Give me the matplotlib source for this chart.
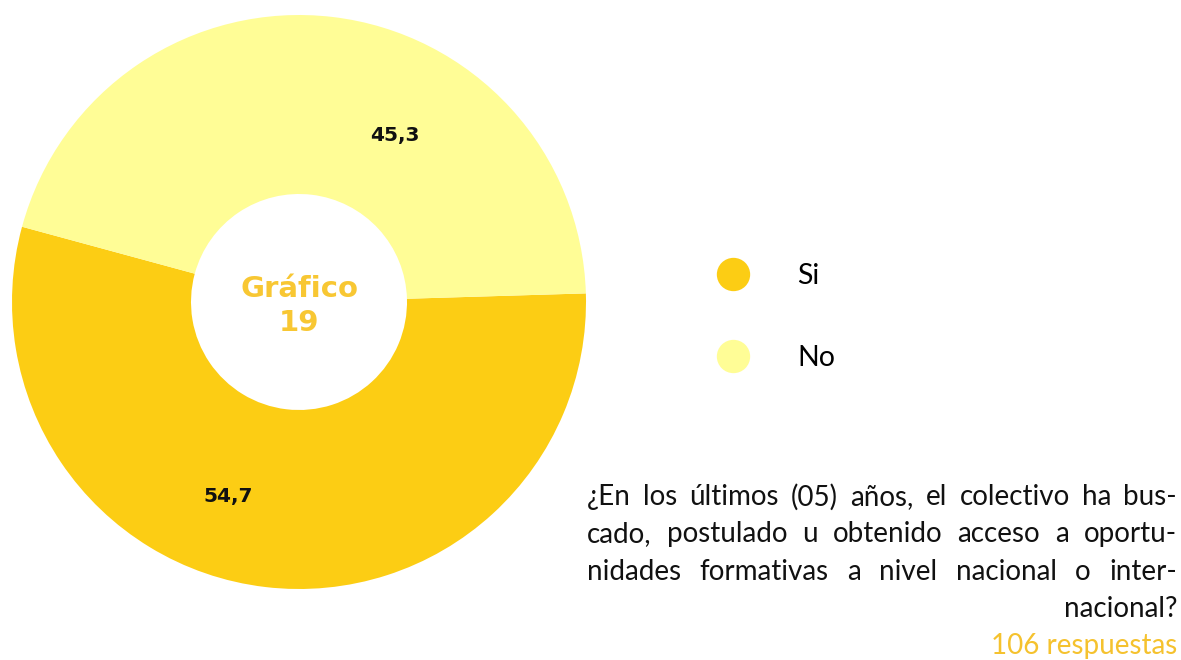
import matplotlib
matplotlib.use("Agg")
import matplotlib.pyplot as plt
from matplotlib.lines import Line2D
import numpy as np

# data
categories = ["Si", "No"]
values = [54.7, 45.3]
colors = ["#FCCD14", "#FFFD96"]
center_title = "Gráfico\n19"
question_lines = [
    "¿En los últimos (05) años, el colectivo ha bus-",
    "cado, postulado u obtenido acceso a oportu-",
    "nidades formativas a nivel nacional o inter-",
    "nacional?",
]
responses = "106 respuestas"

W, H = 1181, 660
fig = plt.figure(figsize=(W / 100, H / 100), dpi=100)
ax = fig.add_axes([0, 0, 1, 1])

cx, cy, r_out, r_in = 299, H - 302, 287, 108
wedges, _ = ax.pie(values, colors=colors, startangle=164.8, counterclock=True,
                   radius=r_out, center=(cx, cy),
                   wedgeprops=dict(width=r_out - r_in, edgecolor="none"))
ax.set_xlim(0, W)
ax.set_ylim(0, H)
ax.set_aspect("equal")
ax.axis("off")

# value labels (angle offset from wedge middle, radius)
label_pos = {"Si": (-13.4, 207), "No": (-23.2, 192)}
for w, cat, v in zip(wedges, categories, values):
    mid = (w.theta1 + w.theta2) / 2
    off, rr = label_pos[cat]
    a = np.deg2rad(mid + off)
    ax.text(cx + rr * np.cos(a), cy + rr * np.sin(a), f"{v:.1f}".replace(".", ","),
            ha="center", va="center", fontsize=14.5, fontweight="bold",
            family="DejaVu Sans", color="#111111")

ax.text(cx, cy - 4, center_title, ha="center", va="center", fontsize=21,
        fontweight="bold", family="DejaVu Sans", color="#F8C733", linespacing=1.25)

# legend
handles = [Line2D([], [], marker="o", linestyle="none", markersize=24,
                  markerfacecolor=c, markeredgecolor="none") for c in colors]
leg = fig.legend(handles, categories, loc="center left",
                 bbox_to_anchor=(705 / W, 1 - 317 / H), frameon=False,
                 prop=dict(family="Lato", size=20.5), labelspacing=1.95,
                 handlelength=1.0, handletextpad=1.75, borderpad=0)

# justified question text
fig.canvas.draw()
renderer = fig.canvas.get_renderer()
x0, x1 = 587, 1177
fs = 20
base_y = 497
step = 37.3
for i, line in enumerate(question_lines):
    y = H - (base_y + i * step)
    if i == len(question_lines) - 1:
        ax.text(x1, y, line, ha="right", va="center", fontsize=fs,
                family="Lato", color="#111111")
        continue
    words = line.split(" ")
    widths = []
    for wd in words:
        t = ax.text(0, 0, wd, fontsize=fs, family="Lato")
        widths.append(t.get_window_extent(renderer).width)
        t.remove()
    gap = (x1 - x0 - sum(widths)) / (len(words) - 1)
    x = x0
    for wd, wdt in zip(words, widths):
        ax.text(x, y, wd, ha="left", va="center", fontsize=fs,
                family="Lato", color="#111111")
        x += wdt + gap

ax.text(x1, H - 646, responses, ha="right", va="center", fontsize=20,
        family="Lato", color="#F5C22E")

fig.savefig("out.png", dpi=100)
